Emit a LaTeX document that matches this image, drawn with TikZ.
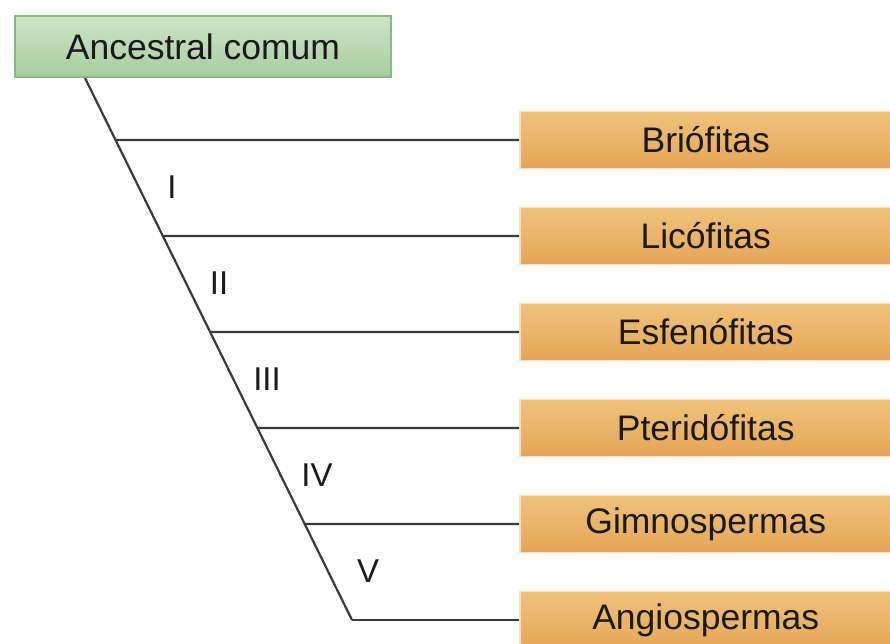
\documentclass[tikz,border=0pt]{standalone}
\usepackage{fontspec}
\setmainfont{Liberation Sans}
\usetikzlibrary{calc}
\definecolor{txt}{HTML}{1A1A1A}
\definecolor{linec}{HTML}{3A3A3A}
\tikzset{
  taxon/.style={draw=orange!25!white, line width=1.5pt, top color={rgb,255:red,240;green,194;blue,122}, bottom color={rgb,255:red,228;green,166;blue,88}, minimum width=372pt, minimum height=57pt, anchor=west, inner sep=0pt, text=txt, font=\fontsize{35.5}{38}\selectfont},
  rootbox/.style={draw={rgb,255:red,140;green,184;blue,136}, line width=2pt, top color={rgb,255:red,206;green,228;blue,198}, bottom color={rgb,255:red,168;green,204;blue,160}, minimum width=376pt, minimum height=61pt, inner sep=0pt, text=txt, font=\fontsize{35.5}{38}\selectfont},
  branch/.style={draw=linec, line width=2.2pt},
  numlabel/.style={text=txt, font=\fontsize{33}{36}\selectfont, inner sep=0pt}
}
\begin{document}
\begin{tikzpicture}[x=1pt,y=-1pt]
\useasboundingbox (0,0) rectangle (890,644);
\clip (0,0) rectangle (890,644);
\node[rootbox] (anc) at (203,46.5) {Ancestral comum};
\coordinate (top) at (85,78);
\coordinate (bot) at (352,620);
\node[taxon] (b1) at (519,140) {Brióf\/itas};
\node[taxon] (b2) at (519,236) {Licóf\/itas};
\node[taxon] (b3) at (519,332) {Esfenóf\/itas};
\node[taxon] (b4) at (519,428) {Pteridóf\/itas};
\node[taxon] (b5) at (519,524) {Gimnospermas};
\node[taxon] (b6) at (519,620) {Angiospermas};
\coordinate (j1) at ($(top)!0.1144!(bot)$);
\coordinate (j2) at ($(top)!0.2915!(bot)$);
\coordinate (j3) at ($(top)!0.4686!(bot)$);
\coordinate (j4) at ($(top)!0.6458!(bot)$);
\coordinate (j5) at ($(top)!0.8229!(bot)$);
\draw[branch] (top) -- (bot);
\draw[branch] (j1) -- (b1.west);
\draw[branch] (j2) -- (b2.west);
\draw[branch] (j3) -- (b3.west);
\draw[branch] (j4) -- (b4.west);
\draw[branch] (j5) -- (b5.west);
\draw[branch] (bot) -- (b6.west);
\node[numlabel] (n1) at (172,187) {I};
\node[numlabel] (n2) at (219,283) {II};
\node[numlabel] (n3) at (267,379) {III};
\node[numlabel] (n4) at (317,475) {IV};
\node[numlabel] (n5) at (368,571) {V};
\end{tikzpicture}
\end{document}
